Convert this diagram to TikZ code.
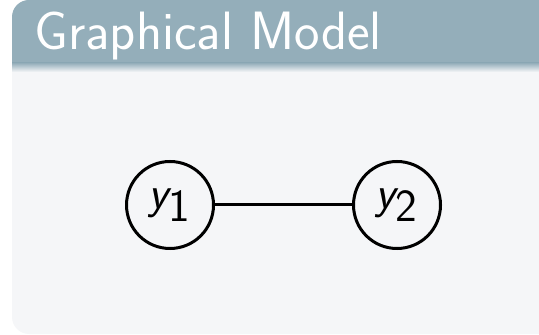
\documentclass[tikz,border=0pt]{standalone}
\usepackage{tikz}
\usetikzlibrary{positioning}
\definecolor{titlegray}{RGB}{148,174,186}
\definecolor{bodygray}{RGB}{245,246,248}

\newcommand{\sfvar}[2]{$\textsf{\itshape #1}_{\textsf{#2}}$}

\begin{document}
\begin{tikzpicture}[
		x=0.5pt, y=-0.5pt,
		line width=1.5pt,
		var/.style={draw, circle, line width=1.5pt, minimum size=43.5pt, inner sep=0pt,
			font=\fontsize{23}{27}\selectfont},
		blocktitle/.style={text=white, inner sep=0pt, anchor=base west,
			font=\sffamily\fontsize{27}{32}\selectfont}
	]

	\useasboundingbox (0,0) rectangle (539,335);
	\clip (0,0) rectangle (539,335);

	%% block body
	\fill[bodygray, rounded corners=8.5pt] (12,0) rectangle (600,334);

	%% block title bar with its fading edge
	\fill[titlegray, rounded corners=8.5pt] (12,0) rectangle (600,50);
	\fill[titlegray] (12,30) rectangle (600,63);
	\shade[top color=titlegray, bottom color=bodygray] (12,63) rectangle (600,72);
	\node[blocktitle] (title) at (33,50) {Graphical Model};

	%% the two variables
	\node[var] (y1) at (170,205) {\sfvar{y}{1}};
	\node[var] (y2) at (397,205) {\sfvar{y}{2}};
	\draw (y1) -- (y2);

\end{tikzpicture}
\end{document}
